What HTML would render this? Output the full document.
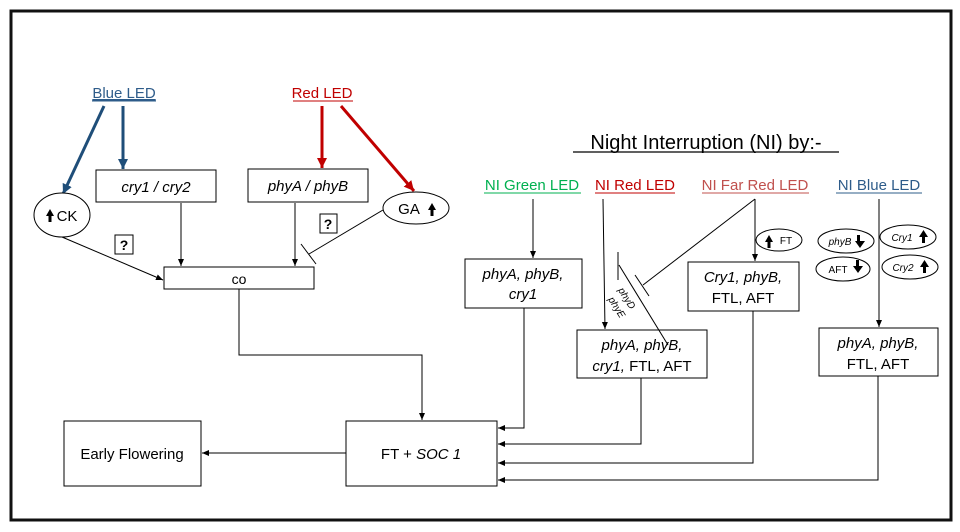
<!DOCTYPE html>
<html><head><style>
html,body{margin:0;padding:0;background:#fff;}
svg{display:block;font-family:"Liberation Sans",sans-serif;}
</style></head><body>
<svg width="960" height="532" viewBox="0 0 960 532" xmlns="http://www.w3.org/2000/svg">
<defs>
<marker id="a" markerWidth="8" markerHeight="8" refX="7" refY="4" orient="auto" markerUnits="userSpaceOnUse"><path d="M0,1 L7,4 L0,7z" fill="#000"/></marker>
<marker id="ab" markerWidth="12" markerHeight="12" refX="10" refY="6" orient="auto" markerUnits="userSpaceOnUse"><path d="M0,1 L10,6 L0,11z" fill="#1F4E79"/></marker>
<marker id="ar" markerWidth="12" markerHeight="12" refX="10" refY="6" orient="auto" markerUnits="userSpaceOnUse"><path d="M0,1 L10,6 L0,11z" fill="#C00000"/></marker>
</defs>
<rect x="11" y="11" width="940" height="509" fill="#fff" stroke="#111" stroke-width="3"/>
<g font-size="15" text-anchor="middle">
<text x="124" y="98" fill="#2E5C8A" text-decoration="underline">Blue LED</text>
<line x1="92" y1="101" x2="156" y2="101" stroke="#2E5C8A"/>
<text x="322" y="98" fill="#C00000">Red LED</text>
<line x1="293" y1="101" x2="353" y2="101" stroke="#C00000"/>
</g>
<g stroke-width="3" fill="none">
<line x1="104" y1="106" x2="63" y2="194" stroke="#1F4E79" marker-end="url(#ab)"/>
<line x1="123" y1="106" x2="123" y2="169" stroke="#1F4E79" marker-end="url(#ab)"/>
<line x1="322" y1="106" x2="322" y2="168" stroke="#C00000" marker-end="url(#ar)"/>
<line x1="341" y1="106" x2="414" y2="191" stroke="#C00000" marker-end="url(#ar)"/>
</g>
<g stroke="#000" fill="#fff" stroke-width="1">
<ellipse cx="62" cy="215" rx="28" ry="22"/>
<rect x="96" y="170" width="120" height="32"/>
<rect x="248" y="169" width="120" height="33"/>
<ellipse cx="416" cy="208" rx="33" ry="16"/>
<rect x="164" y="267" width="150" height="22"/>
<rect x="115" y="235" width="18" height="19"/>
<rect x="320" y="214" width="17" height="19"/>
<rect x="64" y="421" width="137" height="65"/>
<rect x="346" y="421" width="151" height="65"/>
</g>
<g font-size="15" text-anchor="middle">
<text x="67" y="221">CK</text>
<path d="M46,216 l4,-7 l4,7 h-2.5 v6 h-3 v-6z" fill="#000"/>
<text x="156" y="192" font-style="italic">cry1 / cry2</text>
<text x="308" y="191" font-style="italic">phyA / phyB</text>
<text x="409" y="214">GA</text>
<path d="M428,210 l4,-7 l4,7 h-2.5 v6 h-3 v-6z" fill="#000"/>
<text x="239" y="284" font-size="14">co</text>
<text x="124" y="250" font-weight="bold" font-size="14">?</text>
<text x="328" y="229" font-weight="bold" font-size="14">?</text>
<text x="132" y="459" font-size="15">Early Flowering</text>
<text x="421" y="459" font-size="15">FT + <tspan font-style="italic">SOC 1</tspan></text>
</g>
<g stroke="#000" stroke-width="1" fill="none">
<line x1="62" y1="237" x2="163" y2="280" marker-end="url(#a)"/>
<line x1="181" y1="203" x2="181" y2="266" marker-end="url(#a)"/>
<line x1="295" y1="203" x2="295" y2="266" marker-end="url(#a)"/>
<line x1="383" y1="210" x2="309" y2="254"/>
<line x1="301" y1="244" x2="316" y2="264"/>
<polyline points="239,289 239,355 422,355 422,420" marker-end="url(#a)"/>
<line x1="346" y1="453" x2="202" y2="453" marker-end="url(#a)"/>
</g>
<!-- Right side -->
<g font-size="20" text-anchor="middle"><text x="706" y="149">Night Interruption (NI) by:-</text></g>
<line x1="573" y1="152" x2="839" y2="152" stroke="#000" stroke-width="1.2"/>
<g font-size="15" text-anchor="middle">
<text x="532" y="190" fill="#00B050">NI Green LED</text>
<line x1="484" y1="193" x2="581" y2="193" stroke="#00B050"/>
<text x="635" y="190" fill="#C00000">NI Red LED</text>
<line x1="595" y1="193" x2="675" y2="193" stroke="#C00000"/>
<text x="755" y="190" fill="#C0504D">NI Far Red LED</text>
<line x1="702" y1="193" x2="809" y2="193" stroke="#C0504D"/>
<text x="879" y="190" fill="#2E5C8A">NI Blue LED</text>
<line x1="836" y1="193" x2="922" y2="193" stroke="#2E5C8A"/>
</g>
<g stroke="#000" fill="#fff" stroke-width="1">
<rect x="465" y="259" width="117" height="49"/>
<rect x="577" y="330" width="130" height="48"/>
<rect x="688" y="262" width="111" height="49"/>
<rect x="819" y="328" width="119" height="48"/>
<ellipse cx="779" cy="240" rx="23" ry="11"/>
<ellipse cx="846" cy="241" rx="28" ry="12"/>
<ellipse cx="908" cy="237" rx="28" ry="12"/>
<ellipse cx="843" cy="269" rx="27" ry="12"/>
<ellipse cx="910" cy="267" rx="28" ry="12"/>
</g>
<g stroke="#000" stroke-width="1" fill="none">
<line x1="533" y1="199" x2="533" y2="258" marker-end="url(#a)"/>
<line x1="603" y1="199" x2="605" y2="329" marker-end="url(#a)"/>
<line x1="755" y1="199" x2="755" y2="261" marker-end="url(#a)"/>
<line x1="755" y1="199" x2="643" y2="285"/>
<line x1="635" y1="275" x2="649" y2="296"/>
<line x1="618" y1="252" x2="618" y2="280"/>
<line x1="619" y1="265" x2="668" y2="345"/>
<line x1="879" y1="199" x2="879" y2="327" marker-end="url(#a)"/>
<polyline points="524,308 524,428 498,428" marker-end="url(#a)"/>
<polyline points="641,378 641,444 498,444" marker-end="url(#a)"/>
<polyline points="753,311 753,463 498,463" marker-end="url(#a)"/>
<polyline points="878,376 878,480 498,480" marker-end="url(#a)"/>
</g>
<g font-size="15" text-anchor="middle">
<text x="523" y="279" font-style="italic">phyA, phyB,</text>
<text x="523" y="299" font-style="italic">cry1</text>
<text x="642" y="350" font-style="italic">phyA, phyB,</text>
<text x="642" y="371"><tspan font-style="italic">cry1,</tspan> FTL, AFT</text>
<text x="743" y="282" font-style="italic">Cry1, phyB,</text>
<text x="743" y="303">FTL, AFT</text>
<text x="878" y="348" font-style="italic">phyA, phyB,</text>
<text x="878" y="369">FTL, AFT</text>
</g>
<g font-size="10" text-anchor="middle">
<text x="786" y="244">FT</text>
<path d="M765,242 l4,-7 l4,7 h-2.5 v6 h-3 v-6z" fill="#000"/>
<text x="840" y="245" font-style="italic">phyB</text>
<path d="M861,241 l-4,0 v-6 h3 v6 h-3 z M855,241 l10,0 l-5,7z" fill="#000"/>
<text x="902" y="241" font-style="italic">Cry1</text>
<path d="M919,237 l4.5,-7 l4.5,7 h-3 v6 h-3 v-6z" fill="#000"/>
<text x="838" y="273">AFT</text>
<path d="M856,266 v-6 h3 v6 h-3 z M853,266 l10,0 l-5,7z" fill="#000"/>
<text x="903" y="271" font-style="italic">Cry2</text>
<path d="M920,267 l4.5,-7 l4.5,7 h-3 v6 h-3 v-6z" fill="#000"/>
<text x="0" y="0" font-style="italic" transform="translate(624,300) rotate(58)">phyD</text>
<text x="0" y="0" font-style="italic" transform="translate(614,309) rotate(58)">phyE</text>
</g>
</svg>
</body></html>
